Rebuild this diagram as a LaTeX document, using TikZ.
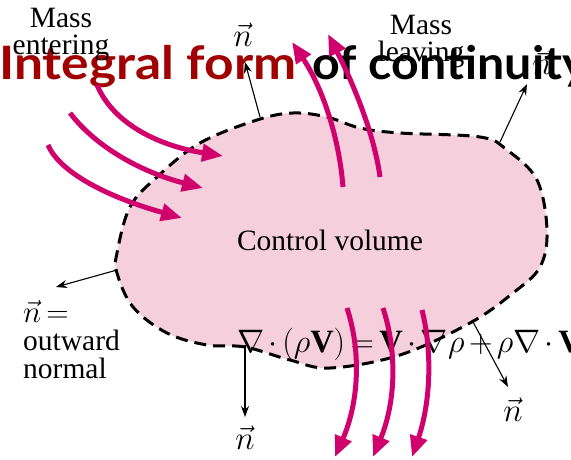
\documentclass[tikz,border=0pt]{standalone}
\usepackage{fix-cm}
\usepackage{fontspec}
\setmainfont{Liberation Serif}
\newfontfamily\titlefont{Lato}
\usetikzlibrary{arrows.meta}
\definecolor{cvpink}{RGB}{245,207,220}
\definecolor{flowmag}{RGB}{208,0,108}
\definecolor{titlered}{RGB}{160,0,0}

\begin{document}
\begin{tikzpicture}[x=1pt,y=-1pt,
  flow/.style={draw=flowmag,line width=5pt,-{Triangle[length=21pt,width=17pt,fill=flowmag]}},
  normal/.style={line width=1.1pt,-{Stealth[length=11pt,width=8pt]}},
  lbl/.style={font=\rmfamily\fontsize{29.5}{29.5}\selectfont,inner sep=0pt,anchor=base},
  nvec/.style={font=\fontsize{33}{33}\selectfont,inner sep=0pt,anchor=base}]
\useasboundingbox (0,0) rectangle (571,460);
% control volume
\def\cvshape{plot[smooth cycle,tension=0.6] coordinates {(117,253) (130,207) (157,177) (200,143) (257,120)
  (293,113) (327,117) (360,128) (400,133) (480,137) (507,150) (537,180) (547,230) (540,267)
  (513,293) (470,323) (400,355) (330,368) (290,360) (245,347) (207,345) (167,333) (133,307) (117,273)}}
\fill[cvpink] \cvshape;
% slide text
\node[anchor=base west,inner sep=0pt,font=\fontsize{32.5}{32.5}\selectfont] (conteq) at (237,352)
  {$\medmuskip=2.5mu\thickmuskip=3mu
   \nabla\cdot(\rho\mathbf{V})=\mathbf{V}\cdot\nabla\rho+\rho\nabla\cdot\mathbf{V}$};
\node[anchor=base west,inner sep=0pt,font=\titlefont\bfseries\fontsize{46}{46}\selectfont] (title) at (-1,80)
  {\textcolor{titlered}{\scalebox{1.12}[1]{Integral form}}\hspace{5pt} \scalebox{1.05}[1]{of continuity}};
\draw[line width=3pt,dash pattern=on 12pt off 7pt] \cvshape;
\node[lbl] (cv) at (330,250) {Control volume};
% mass entering
\coordinate (in1) at (97,85);  \coordinate (in1e) at (223,156);
\coordinate (in2) at (70,113); \coordinate (in2e) at (203,188);
\coordinate (in3) at (48,145); \coordinate (in3e) at (182,218);
\draw[flow] (in1) .. controls (112,121) and (154,145) .. (in1e);
\draw[flow] (in2) .. controls (96,147) and (141,172) .. (in2e);
\draw[flow] (in3) .. controls (59,171) and (104,196) .. (in3e);
% mass leaving
\coordinate (out1) at (343,187); \coordinate (out1e) at (292,42);
\coordinate (out2) at (380,177); \coordinate (out2e) at (328,34);
\draw[flow] (out1) .. controls (339,136) and (322,87) .. (out1e);
\draw[flow] (out2) .. controls (375,139) and (357,91) .. (out2e);
\coordinate (dn1) at (347,308); \coordinate (dn1e) at (335,457);
\coordinate (dn2) at (383,308); \coordinate (dn2e) at (373,457);
\coordinate (dn3) at (422,310); \coordinate (dn3e) at (412,457);
\draw[flow] (dn1) .. controls (362,354) and (358,404) .. (dn1e);
\draw[flow] (dn2) .. controls (398,354) and (395,404) .. (dn2e);
\draw[flow] (dn3) .. controls (433,354) and (430,404) .. (dn3e);
% outward normals
\node[nvec] (nTop) at (243,47) {$\vec n$};
\node[nvec] (nTR) at (542,75) {$\vec n$};
\node[nvec] (nBot) at (245,449) {$\vec n$};
\node[nvec] (nBR) at (513,421) {$\vec n$};
\coordinate (bTop) at (260,117); \coordinate (tTop) at (245,62);
\coordinate (bTR) at (500,142);  \coordinate (tTR) at (527,84);
\coordinate (bL) at (117,270);   \coordinate (tL) at (56,287);
\coordinate (bBot) at (245,345); \coordinate (tBot) at (245,417);
\coordinate (bBR) at (472,320);  \coordinate (tBR) at (508,387);
\draw[normal] (bTop) -- (tTop);
\draw[normal] (bTR) -- (tTR);
\draw[normal] (bL) -- (tL);
\draw[normal] (bBot) -- (tBot);
\draw[normal] (bBR) -- (tBR);
% labels
\node[lbl] (massin) at (61,28) {Mass};
\node[lbl] (entering) at (61,55) {entering};
\node[lbl] (massout) at (421,35) {Mass};
\node[lbl] (leaving) at (421,62) {leaving};
\node[lbl,anchor=base west,font=\fontsize{31}{31}\selectfont] (nout) at (23,322) {$\thickmuskip=3mu\vec n=$};
\node[lbl,anchor=base west] (outward) at (23,350) {outward};
\node[lbl,anchor=base west] (normal) at (23,378) {normal};
\end{tikzpicture}
\end{document}
